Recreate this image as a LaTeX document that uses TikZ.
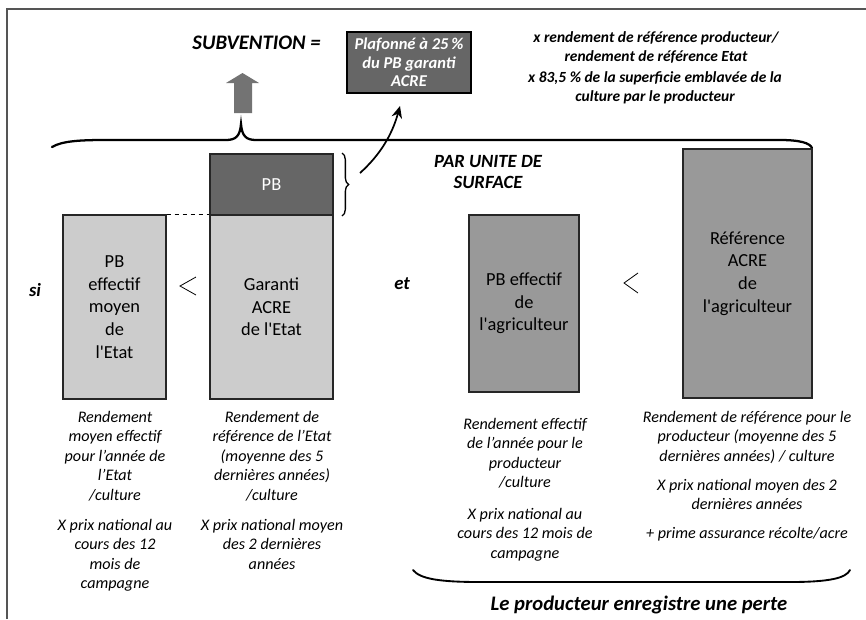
\documentclass[tikz,border=0pt]{standalone}
\usepackage{fontspec}
\setmainfont{Carlito}
\newfontfamily\barfont{Carlito}
\usetikzlibrary{decorations.pathreplacing,arrows.meta}
\definecolor{lightbox}{HTML}{CCCCCC}
\definecolor{darkbox}{HTML}{666666}
\definecolor{midbox}{HTML}{999999}
\definecolor{framecol}{HTML}{555555}
\tikzset{
  px/.style={x=0.75pt,y=-0.75pt},
  bar/.style={draw=black!85, line width=0.9pt, inner sep=0pt, align=center,
    font=\barfont\fontsize{13.8}{17}\selectfont},
  note/.style={align=center, inner sep=0pt, font=\fontsize{12.1}{14.6}\selectfont\itshape},
  bi/.style={inner sep=0pt, font=\fontsize{14}{15.75}\selectfont\bfseries\itshape, align=center},
  bisml/.style={inner sep=0pt, align=center, font=\fontsize{11.6}{14.25}\selectfont\bfseries\itshape},
  lessthan/.style={draw=black, line width=0.6pt},
  bigbrace/.style={draw=black, line width=1.7pt, line cap=round},
}
\begin{document}
\begin{tikzpicture}[px]
\useasboundingbox (0,0) rectangle (866,619);
\fill[white] (0,0) rectangle (866,619);
% frame (partially cropped)
\draw[framecol, line width=1.3pt] (7,619) -- (7,9) -- (866,9);

% top texts
\node[bi, font=\fontsize{15.5}{17}\selectfont\bfseries\itshape] (subv) at (256.5,43) {SUBVENTION =};
\node[draw=black, line width=0.8pt, fill=darkbox, text=white, minimum width=93pt, minimum height=45.75pt,
      inner sep=0pt, align=center, font=\fontsize{12.4}{14}\selectfont\bfseries\itshape] (plaf) at (409,62.5)
      {Plafonné à 25\,\%\\du PB garanti\\ACRE};
\node[bisml] (rend) at (656,47.5) {x rendement de référence producteur/\\rendement de référence Etat};
\node[bisml] (sup) at (655,87.5) {x 83,5 \% de la superficie emblavée de la\\culture par le producteur};

% up arrow
\fill[black!55] (234,113) -- (234,83) -- (226,83) -- (242.5,73) -- (259,83) -- (252,83) -- (252,113) -- cycle;

% big top brace
\draw[bigbrace] (52,147) .. controls (62,141) and (80,140) .. (105,140) -- (226,140)
  .. controls (236,140) and (240,136) .. (241,124)
  .. controls (242,136) and (246,140) .. (256,140) -- (780,140)
  .. controls (800,140) and (810,143) .. (812,148);

\node[bi] (parunite) at (488,172.5) {PAR UNITE DE\\SURFACE};

% bars
\node[bar, fill=lightbox, minimum width=77.25pt, minimum height=138pt] (etat) at (114.5,307)
  {PB\\effectif\\moyen\\de\\l'Etat};
\node[bar, fill=darkbox, text=white, minimum width=92.25pt, minimum height=45.75pt] (pb) at (271.5,184.5) {PB};
\node[bar, fill=lightbox, minimum width=92.25pt, minimum height=138pt] (garanti) at (271.5,307)
  {Garanti\\ACRE\\de l'Etat};
\node[bar, fill=midbox, minimum width=82.5pt, minimum height=132.75pt] (agri) at (524,303.5)
  {PB effectif\\de\\l'agriculteur};
\node[bar, fill=midbox, minimum width=96.75pt, minimum height=186.75pt] (ref) at (747.5,273.5)
  {Référence\\ACRE\\de\\l'agriculteur};

% dashed line
\draw[dashed, line width=0.8pt] (etat.north east) -- (garanti.north west);

% brace beside PB
\draw[decorate, decoration={brace, amplitude=5pt}, line width=1pt] (342,153) -- (342,216);
\coordinate (bracetip) at (360,173);
\coordinate (arrowtip) at (400,106);
\draw[line width=1.3pt, -{Stealth[length=9pt,width=8pt]}] (bracetip) .. controls (380,155) and (392,135) .. (arrowtip);

% si / et
\node[bi] (si) at (35,290) {si};
\node[bi] (et) at (402,284) {et};

% less-than signs
\draw[lessthan] (196,277) -- (180,286) -- (196,295);
\draw[lessthan] (638,273) -- (624,283) -- (638,293);

% notes
\node[note, anchor=north] (n1) at (115,411) {Rendement\\moyen effectif\\pour l’année de\\l’Etat\\/culture\\[8pt]X prix national au\\cours des 12\\mois de\\campagne};
\node[note, anchor=north] (n2) at (272,411) {Rendement de\\référence de l’Etat\\(moyenne des 5\\dernières années)\\/culture\\[8pt]X prix national moyen\\des 2 dernières\\années};
\node[note, anchor=north] (n3) at (525,418) {Rendement effectif\\de l’année pour le\\producteur\\/culture\\[9pt]X prix national au\\cours des 12 mois de\\campagne};
\node[note, anchor=north] (n4) at (747,411) {Rendement de référence pour le\\producteur (moyenne des 5\\dernières années) / culture\\[7pt]X prix national moyen des 2\\dernières années\\[7pt]+ prime assurance récolte/acre};

% bottom brace
\draw[line width=1.4pt, line cap=round] (413,570) .. controls (420,579) and (440,582) .. (480,582) -- (790,582)
  .. controls (830,582) and (846,578) .. (850,570);
\node[bi, font=\fontsize{15.5}{17}\selectfont\bfseries\itshape] (perte) at (639,605) {Le producteur enregistre une perte};
\end{tikzpicture}
\end{document}
